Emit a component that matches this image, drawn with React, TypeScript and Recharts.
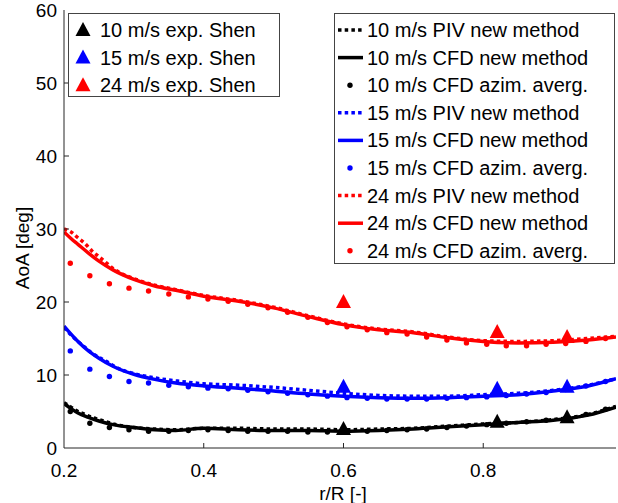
import { ComposedChart, Line, Scatter, XAxis, YAxis } from "recharts";

// r/R sample positions
const R_CFD = [0.2, 0.21, 0.22, 0.235, 0.25, 0.27, 0.3, 0.33, 0.36, 0.4, 0.45, 0.5, 0.55, 0.6, 0.65, 0.7, 0.75, 0.8, 0.85, 0.9, 0.95, 0.99];
const R_PIV = [0.2, 0.21, 0.22, 0.23, 0.24, 0.25, 0.26, 0.27, 0.28, 0.3, 0.33, 0.36, 0.4, 0.45, 0.5, 0.55, 0.6, 0.65, 0.7, 0.75, 0.8, 0.85, 0.9, 0.95, 0.99];
const R_AZIM = [0.209, 0.237, 0.265, 0.293, 0.321, 0.35, 0.378, 0.406, 0.435, 0.463, 0.492, 0.52, 0.549, 0.577, 0.605, 0.634, 0.662, 0.691, 0.719, 0.748, 0.776, 0.805, 0.833, 0.862, 0.89, 0.918, 0.947, 0.975];
const R_EXP = [0.6, 0.82, 0.92];

// AoA [deg]
const CFD_10 = [6.1, 5.4, 4.8, 4.2, 3.7, 3.2, 2.8, 2.5, 2.4, 2.7, 2.5, 2.4, 2.4, 2.3, 2.4, 2.6, 2.9, 3.2, 3.5, 3.8, 4.5, 5.6];
const CFD_15 = [16.7, 15.6, 14.6, 13.3, 12.3, 11.2, 10.1, 9.4, 8.9, 8.5, 8.2, 7.8, 7.4, 7.1, 6.9, 6.8, 6.9, 7.1, 7.3, 7.8, 8.5, 9.5];
const CFD_24 = [29.6, 28.7, 27.9, 26.7, 25.6, 24.4, 23.1, 22.2, 21.6, 20.8, 20.1, 19.2, 18.0, 16.9, 16.2, 15.8, 15.1, 14.6, 14.4, 14.5, 14.8, 15.2];

const PIV_10 = [6.2, 5.6, 5.0, 4.6, 4.2, 3.9, 3.6, 3.3, 3.1, 2.8, 2.6, 2.5, 2.7, 2.7, 2.6, 2.6, 2.5, 2.6, 2.7, 3.0, 3.3, 3.5, 3.9, 4.6, 5.7];
const PIV_15 = [16.5, 15.5, 14.6, 13.8, 13.0, 12.4, 11.9, 11.3, 10.8, 10.2, 9.6, 9.2, 8.8, 8.6, 8.3, 7.9, 7.5, 7.2, 7.1, 7.1, 7.3, 7.5, 7.9, 8.6, 9.5];
const PIV_24 = [30.0, 29.6, 28.8, 28.0, 27.0, 26.2, 25.4, 24.6, 24.0, 23.2, 22.3, 21.7, 20.9, 20.2, 19.3, 18.1, 17.0, 16.3, 15.9, 15.2, 14.7, 14.6, 14.7, 15.0, 15.3];

const AZIM_10 = [5.0, 3.4, 2.8, 2.5, 2.3, 2.3, 2.4, 2.5, 2.4, 2.3, 2.3, 2.3, 2.2, 2.2, 2.2, 2.3, 2.4, 2.5, 2.6, 2.8, 3.0, 3.2, 3.4, 3.6, 3.8, 4.1, 4.6, 5.3];
const AZIM_15 = [13.3, 10.8, 9.8, 9.1, 8.9, 8.6, 8.4, 8.2, 8.1, 7.9, 7.7, 7.5, 7.3, 7.1, 6.9, 6.8, 6.7, 6.7, 6.7, 6.8, 6.9, 7.0, 7.2, 7.4, 7.6, 8.0, 8.5, 9.1];
const AZIM_24 = [25.3, 23.6, 22.5, 21.9, 21.5, 21.1, 20.7, 20.4, 20.1, 19.7, 19.2, 18.6, 17.9, 17.2, 16.6, 16.2, 15.8, 15.6, 15.2, 14.8, 14.4, 14.2, 14.0, 14.0, 14.2, 14.3, 14.6, 15.0];

const EXP_10 = [2.6, 3.6, 4.2];
const EXP_15 = [8.4, 8.1, 8.4];
const EXP_24 = [20.0, 15.9, 15.2];

const X_TICKS = [0.2, 0.4, 0.6, 0.8];
const Y_TICKS = [0, 10, 20, 30, 40, 50, 60];

const BLACK = "#000000";
const BLUE = "#0000ff";
const RED = "#ff0000";
const AXIS = "#262626";
const FONT = "'Liberation Sans', Arial, Helvetica, sans-serif";

const pts = (xs: number[], ys: number[]) => xs.map((x, i) => ({ x, y: ys[i] }));

const BottomTick = (props: any) => {
  const { x, y, payload } = props;
  return (
    <g>
      {payload.value > 0.2 && <line x1={x} y1={y} x2={x} y2={y - 5} stroke={AXIS} />}
      <text x={x} y={y + 29} textAnchor="middle" fontSize={19} fontFamily={FONT} fill="#000">
        {payload.value.toFixed(1)}
      </text>
    </g>
  );
};

const LeftTick = (props: any) => {
  const { x, y, payload } = props;
  return (
    <g>
      {payload.value > 0 && payload.value < 60 && <line x1={x} y1={y} x2={x + 5} y2={y} stroke={AXIS} />}
      <text x={x - 7} y={y + 7} textAnchor="end" fontSize={19} fontFamily={FONT} fill="#000">
        {payload.value}
      </text>
    </g>
  );
};

const TopTick = (props: any) => {
  const { x, y, payload } = props;
  if (payload.value <= 0.2) return <g />;
  return <line x1={x} y1={y} x2={x} y2={y + 5} stroke={AXIS} />;
};

const RightTick = (props: any) => {
  const { x, y, payload } = props;
  if (payload.value <= 0 || payload.value >= 60) return <g />;
  return <line x1={x} y1={y} x2={x - 5} y2={y} stroke={AXIS} />;
};

const Triangle = (props: any) => {
  const { cx, cy, fill } = props;
  if (cx == null || cy == null) return <g />;
  return <polygon points={`${cx},${cy - 8} ${cx - 7.5},${cy + 6} ${cx + 7.5},${cy + 6}`} fill={fill} />;
};

const Dot = (props: any) => {
  const { cx, cy, fill } = props;
  if (cx == null || cy == null) return <g />;
  return <circle cx={cx} cy={cy} r={2.7} fill={fill} />;
};

const LEFT_LEGEND = [
  { label: "10 m/s exp. Shen", color: BLACK },
  { label: "15 m/s exp. Shen", color: BLUE },
  { label: "24 m/s exp. Shen", color: RED },
];

const RIGHT_LEGEND = [
  { label: "10 m/s PIV new method", color: BLACK, kind: "dot-line" },
  { label: "10 m/s CFD new method", color: BLACK, kind: "line" },
  { label: "10 m/s CFD azim. averg.", color: BLACK, kind: "dot" },
  { label: "15 m/s PIV new method", color: BLUE, kind: "dot-line" },
  { label: "15 m/s CFD new method", color: BLUE, kind: "line" },
  { label: "15 m/s CFD azim. averg.", color: BLUE, kind: "dot" },
  { label: "24 m/s PIV new method", color: RED, kind: "dot-line" },
  { label: "24 m/s CFD new method", color: RED, kind: "line" },
  { label: "24 m/s CFD azim. averg.", color: RED, kind: "dot" },
];

const DASH = "3.5 3.2";

export default function App() {
  const lines = [
    { d: pts(R_CFD, CFD_10), c: BLACK },
    { d: pts(R_CFD, CFD_15), c: BLUE },
    { d: pts(R_CFD, CFD_24), c: RED },
  ];
  const piv = [
    { d: pts(R_PIV, PIV_10), c: BLACK },
    { d: pts(R_PIV, PIV_15), c: BLUE },
    { d: pts(R_PIV, PIV_24), c: RED },
  ];
  const azim = [
    { d: pts(R_AZIM, AZIM_10), c: BLACK },
    { d: pts(R_AZIM, AZIM_15), c: BLUE },
    { d: pts(R_AZIM, AZIM_24), c: RED },
  ];
  const exp = [
    { d: pts(R_EXP, EXP_10), c: BLACK },
    { d: pts(R_EXP, EXP_15), c: BLUE },
    { d: pts(R_EXP, EXP_24), c: RED },
  ];

  return (
    <div style={{ position: "absolute", left: 0, top: 0, width: 618, height: 503, background: "#fff" }}>
      <ComposedChart width={618} height={503} margin={{ top: 10, right: 2, bottom: 0, left: 0 }}>
        <XAxis
          xAxisId="b"
          type="number"
          dataKey="x"
          domain={[0.2, 0.99]}
          ticks={X_TICKS}
          height={55}
          tickSize={0}
          tickMargin={0}
          tickLine={false}
          axisLine={{ stroke: AXIS }}
          tick={<BottomTick />}
          allowDataOverflow
        />
        <XAxis
          xAxisId="t"
          orientation="top"
          type="number"
          dataKey="x"
          domain={[0.2, 0.99]}
          ticks={X_TICKS}
          height={0}
          tickSize={0}
          tickMargin={0}
          tickLine={false}
          axisLine={{ stroke: AXIS }}
          tick={<TopTick />}
          allowDataOverflow
        />
        <YAxis
          yAxisId="l"
          type="number"
          dataKey="y"
          domain={[0, 60]}
          ticks={Y_TICKS}
          width={64}
          tickSize={0}
          tickMargin={0}
          tickLine={false}
          axisLine={{ stroke: AXIS }}
          tick={<LeftTick />}
          allowDataOverflow
        />
        <YAxis
          yAxisId="r"
          orientation="right"
          type="number"
          dataKey="y"
          domain={[0, 60]}
          ticks={Y_TICKS}
          width={0}
          tickSize={0}
          tickMargin={0}
          tickLine={false}
          axisLine={{ stroke: AXIS }}
          tick={<RightTick />}
          allowDataOverflow
        />
        {piv.map((s, i) => (
          <Line
            key={"piv" + i}
            xAxisId="b"
            yAxisId="l"
            data={s.d}
            dataKey="y"
            type="monotone"
            stroke={s.c}
            strokeWidth={3.5}
            strokeDasharray={DASH}
            dot={false}
            isAnimationActive={false}
          />
        ))}
        {lines.map((s, i) => (
          <Line
            key={"cfd" + i}
            xAxisId="b"
            yAxisId="l"
            data={s.d}
            dataKey="y"
            type="monotone"
            stroke={s.c}
            strokeWidth={3.5}
            dot={false}
            isAnimationActive={false}
          />
        ))}
        {azim.map((s, i) => (
          <Scatter
            key={"az" + i}
            xAxisId="b"
            yAxisId="l"
            data={s.d}
            fill={s.c}
            shape={<Dot />}
            isAnimationActive={false}
          />
        ))}
        {exp.map((s, i) => (
          <Scatter
            key={"exp" + i}
            xAxisId="b"
            yAxisId="l"
            data={s.d}
            fill={s.c}
            shape={<Triangle />}
            isAnimationActive={false}
          />
        ))}
      </ComposedChart>

      <svg width={618} height={503} style={{ position: "absolute", left: 0, top: 0, pointerEvents: "none" }}>
        <text
          x={0}
          y={0}
          transform="translate(29,248) rotate(-90)"
          textAnchor="middle"
          fontSize={19}
          fontFamily={FONT}
          fill="#000"
        >
          AoA [deg]
        </text>
        <text x={343} y={500} textAnchor="middle" fontSize={19} fontFamily={FONT} fill="#000">
          r/R [-]
        </text>

        <rect x={68.5} y={13.5} width={211} height={83} fill="#fff" stroke="#444" strokeWidth={1} />
        {LEFT_LEGEND.map((e, i) => {
          const cy = 30 + i * 27.6;
          return (
            <g key={e.label}>
              <polygon points={`${83},${cy - 8} ${75.5},${cy + 6} ${90.5},${cy + 6}`} fill={e.color} />
              <text x={100} y={cy + 7} fontSize={20} fontFamily={FONT} fill="#000">
                {e.label}
              </text>
            </g>
          );
        })}

        <rect x={334.5} y={13.5} width={280} height={250} fill="#fff" stroke="#444" strokeWidth={1} />
        {RIGHT_LEGEND.map((e, i) => {
          const cy = 30 + i * 27.6;
          return (
            <g key={e.label}>
              {e.kind === "line" && <line x1={338} y1={cy} x2={363} y2={cy} stroke={e.color} strokeWidth={3.5} />}
              {e.kind === "dot-line" && (
                <line x1={338} y1={cy} x2={363} y2={cy} stroke={e.color} strokeWidth={3.5} strokeDasharray={DASH} />
              )}
              {e.kind === "dot" && <circle cx={350} cy={cy} r={2.7} fill={e.color} />}
              <text x={367} y={cy + 7} fontSize={20} fontFamily={FONT} fill="#000">
                {e.label}
              </text>
            </g>
          );
        })}
      </svg>
    </div>
  );
}
